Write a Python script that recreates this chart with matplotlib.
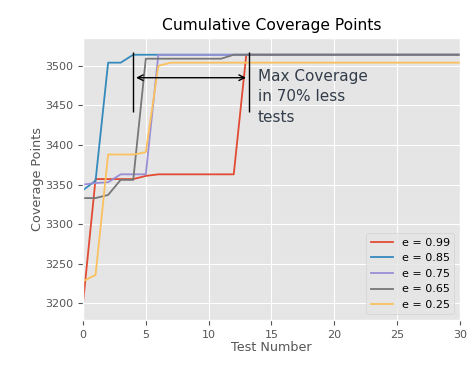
import numpy as np
import matplotlib.pyplot as plt

plt.style.use('ggplot')

# Cumulative coverage per test number, one series per epsilon
tests = np.arange(0, 31)
labels = ['e = 0.99', 'e = 0.85', 'e = 0.75', 'e = 0.65', 'e = 0.25']
colors = ['#E24A33', '#348ABD', '#988ED5', '#777777', '#FBC15E']

cov_099 = [3200, 3357, 3357, 3357, 3357, 3361, 3363, 3363, 3363, 3363, 3363, 3363, 3363] + [3514] * 18
cov_085 = [3343, 3355, 3504, 3504, 3514] + [3514] * 26
cov_075 = [3350, 3352, 3353, 3363, 3363, 3363] + [3514] * 25
cov_065 = [3333, 3333, 3337, 3356, 3356, 3509, 3509, 3509, 3509, 3509, 3509, 3509] + [3514] * 19
cov_025 = [3228, 3236, 3388, 3388, 3388, 3391, 3500] + [3504] * 24
series = [cov_099, cov_085, cov_075, cov_065, cov_025]

fig = plt.figure(figsize=(4.77, 3.7), dpi=100)
ax = fig.add_axes([0.174, 0.135, 0.79, 0.762])

for vals, lab, c in zip(series, labels, colors):
    ax.plot(tests, vals, color=c, label=lab, linewidth=1.3)

# annotation: tests needed for max coverage
ax.vlines([4, 13.2], 3442, 3518, colors='black', linewidth=1)
ax.annotate('', xy=(4, 3485), xytext=(13.2, 3485),
            arrowprops=dict(arrowstyle='<->', color='black', lw=1))
ax.text(13.9, 3496, 'Max Coverage\nin 70% less\ntests', fontsize=11,
        color='#333d4a', va='top', ha='left', linespacing=1.45)

ax.set_xlim(0, 30)
ax.set_ylim(3179, 3535)
ax.set_xticks(range(0, 31, 5))
ax.set_yticks(range(3200, 3501, 50))
ax.set_title('Cumulative Coverage Points', fontsize=11.2, color='black')
ax.set_xlabel('Test Number', fontsize=9.2, labelpad=1)
ax.set_ylabel('Coverage Points', fontsize=9.2, labelpad=1)
ax.tick_params(labelsize=8)
ax.legend(loc='lower right', fontsize=8)

fig.savefig('out.png', dpi=100)
